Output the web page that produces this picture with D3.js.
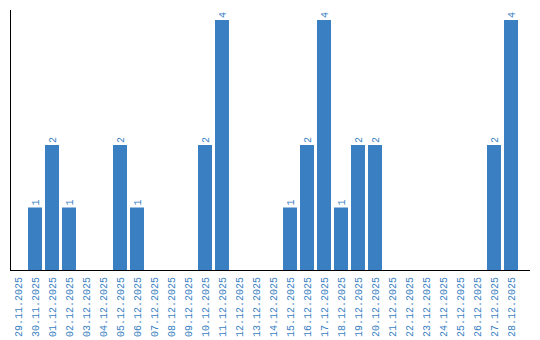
<!DOCTYPE html>
<html>
<head>
<meta charset="utf-8">
<script src="https://cdn.jsdelivr.net/npm/d3@7"></script>
<style>
  body { margin: 0; background: #fff; }
  text { font-family: "Liberation Mono", "DejaVu Sans Mono", monospace; }
</style>
</head>
<body>
<div id="chart"></div>
<script>
// days and counts
var days = ["29.11.2025", "30.11.2025", "01.12.2025", "02.12.2025", "03.12.2025", "04.12.2025",
  "05.12.2025", "06.12.2025", "07.12.2025", "08.12.2025", "09.12.2025", "10.12.2025",
  "11.12.2025", "12.12.2025", "13.12.2025", "14.12.2025", "15.12.2025", "16.12.2025",
  "17.12.2025", "18.12.2025", "19.12.2025", "20.12.2025", "21.12.2025", "22.12.2025",
  "23.12.2025", "24.12.2025", "25.12.2025", "26.12.2025", "27.12.2025", "28.12.2025"];
var counts = [0, 1, 2, 1, 0, 0, 2, 1, 0, 0, 0, 2, 4, 0, 0, 0, 1, 2, 4, 1, 2, 2, 0, 0, 0, 0, 0, 0, 2, 4];
var yDomain = [0, 4];

var blue = "#3a7fc2";

var svg = d3.select("#chart").append("svg")
  .attr("width", 540)
  .attr("height", 340);

var x = d3.scaleBand()
  .domain(days)
  .range([11, 518])
  .paddingInner(3 / 17)
  .paddingOuter(0);

var y = d3.scaleLinear()
  .domain(yDomain)
  .range([270, 20]);

// bars
svg.selectAll("rect.bar")
  .data(days)
  .enter().append("rect")
  .attr("class", "bar")
  .attr("x", function (d) { return x(d); })
  .attr("width", x.bandwidth())
  .attr("y", function (d, i) { return y(counts[i]); })
  .attr("height", function (d, i) { return y(0) - y(counts[i]); })
  .attr("fill", blue);

// value labels
svg.selectAll("text.val")
  .data(days.filter(function (d, i) { return counts[i] > 0; }))
  .enter().append("text")
  .attr("class", "val")
  .attr("transform", function (d) {
    var v = counts[days.indexOf(d)];
    return "translate(" + (x(d) + x.bandwidth() / 2) + "," + (y(v) - 2) + ") rotate(-90)";
  })
  .attr("dy", "0.35em")
  .attr("text-anchor", "start")
  .attr("font-size", "10px")
  .attr("fill", blue)
  .text(function (d) { return counts[days.indexOf(d)]; });

// axes lines
svg.append("line")
  .attr("x1", 10.5).attr("x2", 10.5)
  .attr("y1", 10).attr("y2", 270)
  .attr("stroke", "#000").attr("stroke-width", 1);
svg.append("line")
  .attr("x1", 10).attr("x2", 530)
  .attr("y1", 270.5).attr("y2", 270.5)
  .attr("stroke", "#000").attr("stroke-width", 1);

// day labels
svg.selectAll("text.day")
  .data(days)
  .enter().append("text")
  .attr("class", "day")
  .attr("transform", function (d) {
    return "translate(" + (x(d) + x.bandwidth() / 2) + ",277) rotate(-90)";
  })
  .attr("dy", "0.35em")
  .attr("text-anchor", "end")
  .attr("font-size", "10px")
  .attr("fill", blue)
  .text(function (d) { return d; });
</script>
</body>
</html>
